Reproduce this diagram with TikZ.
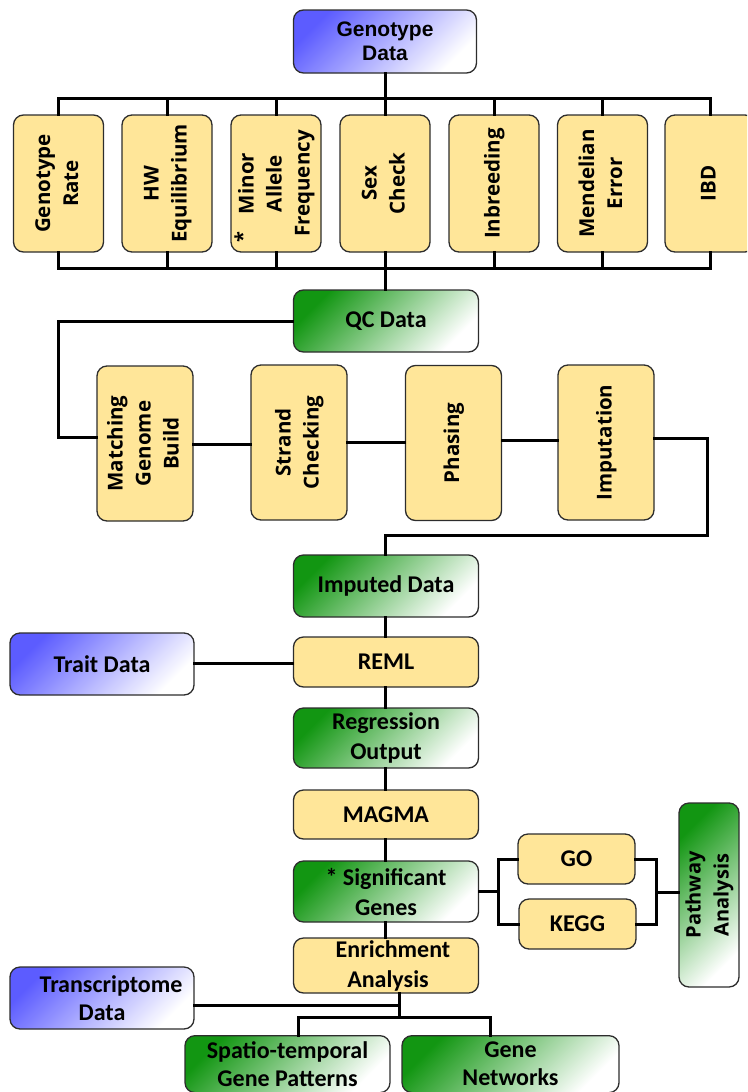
\documentclass[tikz,border=0pt]{standalone}
\usepackage{fontspec}
\setmainfont{Carlito}
\newfontfamily\osans{Open Sans}
\newfontfamily\lsans{Liberation Sans}
\usetikzlibrary{calc}
\definecolor{yel}{RGB}{255,230,153}
\definecolor{bord}{RGB}{45,45,45}
\definecolor{gdark}{RGB}{18,150,18}
\definecolor{gmid}{RGB}{100,190,100}
\definecolor{bdark}{RGB}{92,92,255}
\definecolor{bmid}{RGB}{165,165,250}
\newcommand\vlab[1]{\rotatebox{90}{\begin{tabular}{@{}c@{}}#1\end{tabular}}}
\tikzset{
  box/.style={draw=bord, line width=1.3pt, rounded corners=10pt, inner sep=0pt, align=center,
    font=\bfseries\fontsize{24}{30}\selectfont},
  ybox/.style={box, fill=yel},
  gbox/.style={box, top color=gdark, middle color=gmid, bottom color=white, shading angle=45},
  bbox/.style={box, top color=bdark, middle color=bmid, bottom color=white, shading angle=45},
  vbox/.style={ybox, font=\osans\bfseries\fontsize{20.5}{28}\selectfont},
  qcbox/.style={vbox, minimum width=90pt, minimum height=137pt},
  impbox/.style={vbox, minimum width=96pt, minimum height=155pt},
  cbox/.style={minimum width=185pt},
  conn/.style={line width=3pt, black, line cap=rect}
}
\begin{document}
\begin{tikzpicture}[x=1pt, y=-1pt]
\useasboundingbox (0,0) rectangle (747,1092);
\clip (0,0) rectangle (747,1092);
% top
\node[bbox, minimum width=183pt, minimum height=63pt, font=\lsans\bfseries\fontsize{21}{24}\selectfont] (gd) at (385,41.5) {Genotype\\Data};
% QC row
\node[qcbox] (gr)  at (58.5,183.5) {\vlab{Genotype\\Rate}};
\node[qcbox] (hw)  at (167,183.5) {\vlab{HW\\Equilibrium}};
\node[qcbox] (maf) at (276,183.5) {\vlab{Minor\\Allele\\Frequency}};
\node[font=\osans\bfseries\fontsize{20}{28}\selectfont, rotate=90, inner sep=0pt] (mafstar) at (242,237) {*};
\node[qcbox] (sex) at (385,183.5) {\vlab{Sex\\Check}};
\node[qcbox] (inb) at (494,183.5) {\vlab{Inbreeding}};
\node[qcbox] (me)  at (602.5,183.5) {\vlab{Mendelian\\Error}};
\node[qcbox] (ibd) at (710,183.5) {\vlab{IBD}};
% QC data
\node[gbox, cbox, minimum height=62pt] (qc) at (386,321) {QC Data};
% imputation row
\node[impbox] (mgb) at (145,443.5) {\vlab{Matching\\Genome\\Build}};
\node[impbox] (str) at (299,442.5) {\vlab{Strand\\Checking}};
\node[impbox] (pha) at (453.5,443) {\vlab{Phasing}};
\node[impbox] (imp) at (606,442.5) {\vlab{Imputation}};
% main column
\node[gbox, cbox, minimum height=62pt] (impd) at (386,586) {Imputed Data};
\node[ybox, cbox, minimum height=50pt] (reml) at (386,662) {REML};
\node[bbox, minimum width=184pt, minimum height=62pt] (trait) at (102,664) {Trait Data};
\node[gbox, cbox, minimum height=60pt] (reg) at (386,738) {Regression\\Output};
\node[ybox, cbox, minimum height=49pt] (magma) at (386,814.5) {MAGMA};
\node[gbox, cbox, minimum height=61pt] (sig) at (386,891.5) {* Significant\\Genes};
\node[ybox, cbox, minimum height=55pt] (enr) at (386,965.5) {\hspace*{14pt}Enrichment\\\hspace*{4pt}Analysis};
\node[ybox, minimum width=117pt, minimum height=50pt] (go) at (576.5,859) {GO};
\node[ybox, minimum width=117pt, minimum height=50pt] (kegg) at (577.5,924) {KEGG};
\node[gbox, minimum width=60pt, minimum height=184pt, font=\osans\bfseries\fontsize{20}{28}\selectfont] (pa) at (709,895) {\vlab{Pathway\\Analysis}};
\node[bbox, minimum width=184pt, minimum height=62pt] (trans) at (102,998) {\hspace*{18pt}Transcriptome\\[-2pt]Data};
\node[gbox, minimum width=205pt, minimum height=57pt, anchor=north, font=\bfseries\fontsize{24}{28}\selectfont] (st) at (287.5,1035) {Spatio-temporal\\Gene Patterns};
\node[gbox, minimum width=217pt, minimum height=57pt, anchor=north, font=\bfseries\fontsize{24}{28}\selectfont] (gn) at (510.5,1035) {Gene\\Networks};
% coordinates
\coordinate (tb) at (385,98);
\coordinate (bb) at (385,268);
% top bus
\draw[conn] (gd.south -| tb) -- (tb);
\draw[conn] (gr.north |- tb) -- (ibd.north |- tb);
\foreach \n in {gr,hw,maf,sex,inb,me,ibd} {
  \draw[conn] (\n.north) -- (\n.north |- tb);
  \draw[conn] (\n.south) -- (\n.south |- bb);
}
\draw[conn] (gr.south |- bb) -- (ibd.south |- bb);
\draw[conn] (bb) -- (qc.north -| bb);
% QC data to imputation chain
\coordinate (ql) at (58,437);
\draw[conn] (qc.west) -| (ql) -- (mgb.west |- ql);
\draw[conn] (mgb.east |- 0,444) -- (str.west |- 0,444);
\draw[conn] (str.east |- 0,442) -- (pha.west |- 0,442);
\draw[conn] (pha.east |- 0,440) -- (imp.west |- 0,440);
\coordinate (ir) at (707,438);
\coordinate (ib) at (707,535);
\draw[conn] (imp.east |- ir) -- (ir) -- (ib) -- (ib -| bb) -- (impd.north -| bb);
% main column
\draw[conn] (impd.south -| bb) -- (reml.north -| bb);
\draw[conn] (trait.east |- 0,663) -- (reml.west |- 0,663);
\draw[conn] (reml.south -| bb) -- (reg.north -| bb);
\draw[conn] (reg.south -| bb) -- (magma.north -| bb);
\draw[conn] (magma.south -| bb) -- (sig.north -| bb);
\draw[conn] (sig.south -| bb) -- (enr.north -| bb);
% significant genes to GO/KEGG to pathway
\coordinate (sl) at (498,891.5);
\draw[conn] (sig.east) -- (sl);
\draw[conn] (sl |- go.west) -- (sl |- kegg.west);
\draw[conn] (sl |- go.west) -- (go.west);
\draw[conn] (sl |- kegg.west) -- (kegg.west);
\coordinate (sr) at (656,892);
\draw[conn] (go.east) -- (sr |- go.east) -- (sr |- kegg.east) -- (kegg.east);
\draw[conn] (sr) -- (pa.west |- sr);
% enrichment to outputs
\coordinate (ev) at (399,1017);
\draw[conn] (enr.south -| ev) -- (ev);
\draw[conn] (trans.east |- 0,1005) -- (ev |- 0,1005);
\coordinate (bl) at (298,1017);
\coordinate (br) at (490,1017);
\draw[conn] (bl) -- (br);
\draw[conn] (bl) -- (st.north -| bl);
\draw[conn] (br) -- (gn.north -| br);
\end{tikzpicture}
\end{document}
